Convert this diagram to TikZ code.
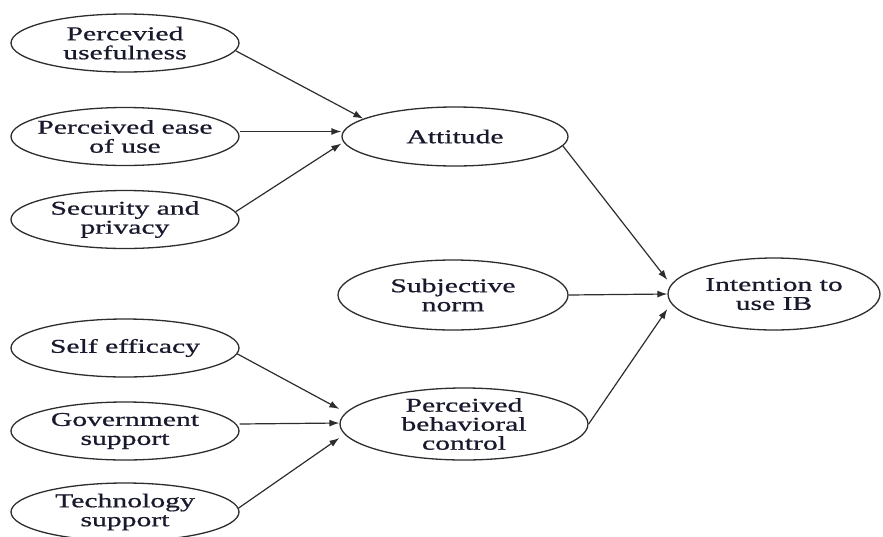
\documentclass[tikz,border=0pt]{standalone}
\usepackage{fontspec}
\setmainfont[FakeStretch=1.52,FakeBold=0.8]{Liberation Serif}
\usetikzlibrary{shapes.geometric,arrows.meta}
\definecolor{linec}{RGB}{45,45,45}
\definecolor{textc}{RGB}{25,25,45}
\tikzset{
  ell/.style={draw=linec, line width=1.3pt, ellipse, inner sep=0pt,
              minimum width=228pt, minimum height=58pt},
  lab/.style={align=center, text=textc, inner sep=0pt,
              font=\fontsize{19.5}{19}\selectfont},
  arr/.style={draw=linec, line width=1.2pt, -{Latex[length=10pt,width=7pt]}},
}
\begin{document}
\begin{tikzpicture}[x=1pt,y=-1pt]
\useasboundingbox (0,0) rectangle (883,536);
% left column
\node[ell, label={[lab]center:Percevied\\usefulness}] (pu) at (125,43) {};
\node[ell, label={[lab]center:Perceived ease\\of use}] (peu) at (125,136.5) {};
\node[ell, label={[lab]center:Security and\\privacy}] (sp) at (125,219.5) {};
\node[ell, label={[lab]center:Self efficacy}] (se) at (125,348) {};
\node[ell, label={[lab]center:Government\\support}] (gov) at (125,431) {};
\node[ell, label={[lab]center:Technology\\support}] (tech) at (125,512) {};
% middle column
\node[ell, minimum width=226pt, minimum height=59pt, label={[lab]center:Attitude}] (att) at (455,136.5) {};
\node[ell, minimum width=230pt, minimum height=70pt, label={[lab]center:Subjective\\norm}] (sn) at (453,295) {};
\node[ell, minimum width=248pt, minimum height=72pt, label={[lab]center:Perceived\\behavioral\\control}] (pbc) at (464,424) {};
% right
\node[ell, minimum width=212pt, minimum height=72pt, label={[lab]center:Intention to\\use IB}] (int) at (774,294) {};
% connectors
\draw[arr] (pu.-4) -- (att.169);
\draw[arr] ([yshift=5pt]peu.east) -- ([yshift=5pt]att.west);
\draw[arr] (sp.4) -- ([yshift=-7pt]att.west);
\draw[arr] (se.-3) -- ([yshift=15pt]pbc.west);
\draw[arr] ([yshift=7pt]gov.east) -- ([yshift=1pt]pbc.west);
\draw[arr] (tech.2) -- ([yshift=-14pt]pbc.west);
\draw[arr] (att.355) -- ([yshift=14pt]int.west);
\draw[arr] (sn.east) -- (int.west);
\draw[arr] (pbc.east) -- ([yshift=-15pt]int.west);
\end{tikzpicture}
\end{document}
